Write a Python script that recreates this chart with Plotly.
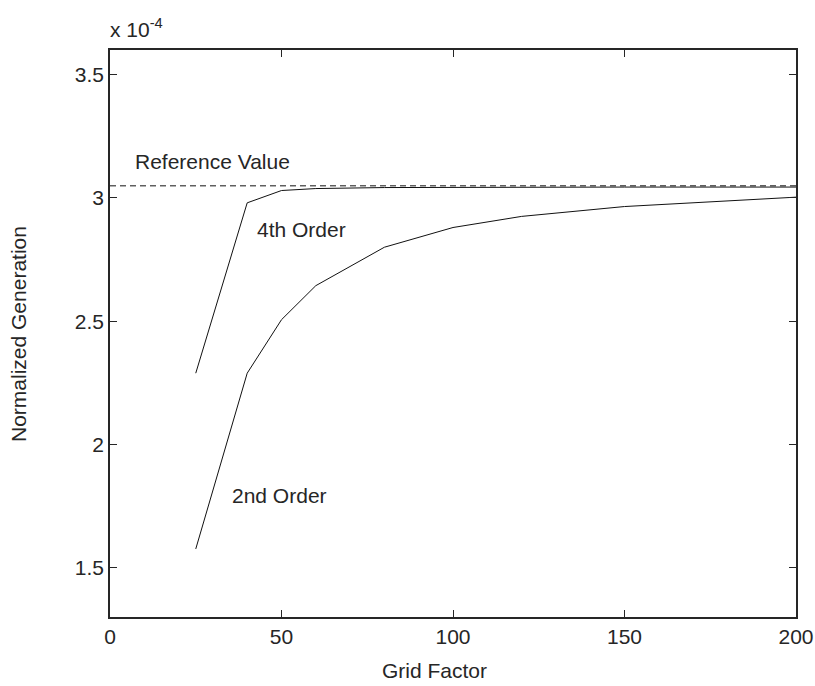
import plotly.graph_objects as go

grid = [25, 40, 50, 60, 80, 100, 120, 150, 200]
order2 = [1.576, 2.289, 2.506, 2.644, 2.800, 2.880, 2.925, 2.965, 3.003]
order4 = [2.289, 2.980, 3.030, 3.038, 3.042, 3.043, 3.044, 3.044, 3.044]
ref_x = [0, 200]
ref_y = [3.049, 3.049]
xticks = [0, 50, 100, 150, 200]
yticks = [1.5, 2, 2.5, 3, 3.5]

FONT = "Liberation Sans, Arial, sans-serif"
TXT = "#262626"
FS = 21

W, H = 815, 686
ML, MR, MT, MB = 110, 19, 50, 69
PW, PH = W - ML - MR, H - MT - MB


def px(xp):
    return (xp - ML) / PW


def py(yp):
    return 1 - (yp - MT) / PH


fig = go.Figure()
fig.add_trace(go.Scatter(x=ref_x, y=ref_y, mode="lines",
                         line=dict(color="#111111", width=1, dash="6px,4px"), showlegend=False))
fig.add_trace(go.Scatter(x=grid, y=order4, mode="lines",
                         line=dict(color="#111111", width=1), showlegend=False))
fig.add_trace(go.Scatter(x=grid, y=order2, mode="lines",
                         line=dict(color="#111111", width=1), showlegend=False))

axis_common = dict(showgrid=False, zeroline=False, showline=True, linecolor="#262626",
                   linewidth=1.5, mirror="ticks", ticks="inside", ticklen=7,
                   tickcolor="#262626", tickwidth=1, automargin=False,
                   tickfont=dict(family=FONT, size=FS, color=TXT))
fig.update_xaxes(range=[0, 200], tickvals=xticks, ticktext=[str(v) for v in xticks], **axis_common)
fig.update_yaxes(range=[1.3, 3.6], tickvals=yticks, ticktext=[f"{v:g}" for v in yticks], **axis_common)

anns = [
    dict(x=6.8, y=3.147, text="Reference Value", xanchor="left", yanchor="middle",
         xref="x", yref="y"),
    dict(x=42.2, y=2.871, text="4th Order", xanchor="left", yanchor="middle",
         xref="x", yref="y"),
    dict(x=34.9, y=1.791, text="2nd Order", xanchor="left", yanchor="middle",
         xref="x", yref="y"),
    dict(x=px(108), y=py(28), text="x 10<sup>-4</sup>", xanchor="left",
         yanchor="middle", xref="paper", yref="paper"),
    dict(x=px(434), y=py(670), text="Grid Factor", xanchor="center",
         yanchor="middle", xref="paper", yref="paper"),
    dict(x=px(18), y=py(334), text="Normalized Generation", xanchor="center",
         yanchor="middle", xref="paper", yref="paper", textangle=-90),
]
for a in anns:
    a.update(showarrow=False, font=dict(family=FONT, size=FS, color=TXT))
fig.update_layout(
    template="none",
    width=W, height=H,
    margin=dict(l=ML, r=MR, t=MT, b=MB),
    paper_bgcolor="white", plot_bgcolor="white",
    annotations=anns,
)
fig.write_html("out.html")
